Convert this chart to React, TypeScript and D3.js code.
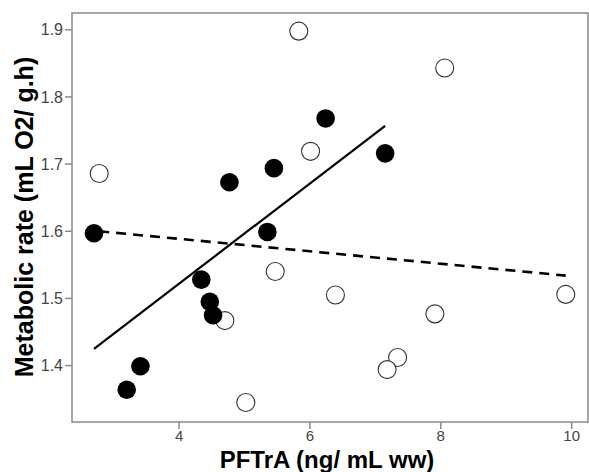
import React from "react";
import * as d3 from "d3";

const openX = [2.78, 5.83, 6.01, 8.06, 4.70, 5.47, 6.39, 5.02, 7.91, 7.34, 7.18, 9.91];
const openY = [1.686, 1.898, 1.719, 1.843, 1.467, 1.540, 1.505, 1.345, 1.477, 1.412, 1.394, 1.506];
const filledX = [6.24, 5.45, 4.77, 2.70, 5.35, 7.15, 4.34, 4.47, 4.52, 3.41, 3.20];
const filledY = [1.768, 1.694, 1.673, 1.597, 1.599, 1.716, 1.528, 1.495, 1.475, 1.399, 1.364];
const solidLineX = [2.70, 7.15];
const solidLineY = [1.425, 1.757];
const dashedLineX = [2.78, 9.91];
const dashedLineY = [1.600, 1.534];
const xTicks = [4, 6, 8, 10];
const yTicks = [1.4, 1.5, 1.6, 1.7, 1.8, 1.9];

const W = 589, H = 472;
const L = 72, R = 588, T = 13, B = 422;

export default function App() {
  const x = d3.scaleLinear().domain([2.364, 10.25]).range([L, R]);
  const y = d3.scaleLinear().domain([1.316, 1.925]).range([B, T]);
  const line = d3.line<[number, number]>().x(d => x(d[0])).y(d => y(d[1]));
  const solid = solidLineX.map((v, i) => [v, solidLineY[i]] as [number, number]);
  const dashed = dashedLineX.map((v, i) => [v, dashedLineY[i]] as [number, number]);
  const font = "'Liberation Sans', Arial, sans-serif";
  return (
    <svg width={W} height={H} style={{ position: "absolute", left: 0, top: 0, background: "#fff" }} fontFamily={font}>
      <rect x={L} y={T} width={R - L} height={B - T} fill="none" stroke="#8a8a8a" strokeWidth={1.5} />
      {yTicks.map(t => (
        <g key={"y" + t}>
          <line x1={L - 7} x2={L} y1={y(t)} y2={y(t)} stroke="#8a8a8a" strokeWidth={1.5} />
          <text x={L - 9} y={y(t)} dy="0.35em" textAnchor="end" fontSize={16} fill="#444">{t.toFixed(1)}</text>
        </g>
      ))}
      {xTicks.map(t => (
        <g key={"x" + t}>
          <line x1={x(t)} x2={x(t)} y1={B} y2={B + 7} stroke="#8a8a8a" strokeWidth={1.5} />
          <text x={x(t)} y={B + 19} textAnchor="middle" fontSize={15} fill="#444">{t}</text>
        </g>
      ))}
      <path d={line(dashed) || ""} fill="none" stroke="#000" strokeWidth={2.6} strokeDasharray="10 7" />
      <path d={line(solid) || ""} fill="none" stroke="#000" strokeWidth={2.2} />
      {openX.map((v, i) => (
        <circle key={"o" + i} cx={x(v)} cy={y(openY[i])} r={9} fill="#fff" stroke="#333" strokeWidth={1.1} />
      ))}
      {filledX.map((v, i) => (
        <circle key={"f" + i} cx={x(v)} cy={y(filledY[i])} r={9.3} fill="#000" />
      ))}
      <text x={327} y={468} textAnchor="middle" fontSize={24} fontWeight="bold" fill="#000">PFTrA (ng/ mL ww)</text>
      <text transform={`translate(33, 217) rotate(-90)`} textAnchor="middle" fontSize={25} fontWeight="bold" fill="#000">Metabolic rate (mL O2/ g.h)</text>
    </svg>
  );
}
